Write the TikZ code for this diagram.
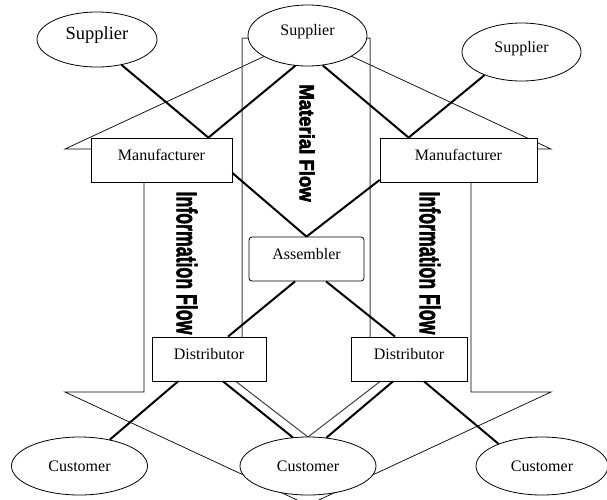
\documentclass[tikz,border=0pt]{standalone}
\usepackage{fontspec}
\setmainfont{Liberation Serif}
\newfontfamily\flowfont{Liberation Sans}
\usetikzlibrary{shapes.geometric}

% heavier stroke for the flow labels
\newcommand{\heavytext}[1]{\special{pdf:literal 2 Tr 0.6 w}#1\special{pdf:literal 0 Tr}}

\tikzset{
  partner/.style={ellipse, draw, fill=white, line width=0.8pt, inner sep=0pt,
    font=\fontsize{16}{18}\selectfont},
  chainbox/.style={rectangle, draw, fill=white, line width=0.8pt, inner sep=0pt,
    minimum height=44pt, text height=10pt, text depth=10pt,
    font=\fontsize{16}{18}\selectfont},
  matline/.style={line width=2pt},
  flowedge/.style={line width=0.7pt},
  flowtext/.style={rotate=-90, inner sep=0pt, font=\flowfont\bfseries}
}

\begin{document}
\begin{tikzpicture}[x=1pt, y=-1pt]
  \useasboundingbox (0,0) rectangle (607,499);

  % information flow (double arrow)
  \draw[flowedge] (144,149) -- (65,149) -- (308,36) -- (551,149) -- (471,149)
    -- (471,392) -- (551,392) -- (308,505) -- (65,392) -- (144,392) -- cycle;
  % material flow (down arrow)
  \draw[flowedge, black!75, line width=1pt] (242,360) -- (242,38) -- (370,38)
    -- (370,360) -- (408,360) -- (308,437) -- (208,360) -- cycle;

  \node[flowtext] (info1) at (187,263)
    {\fontsize{28.8}{30}\selectfont\scalebox{0.616}[1]{\heavytext{Information Flow}}};
  \node[flowtext] (info2) at (430,263)
    {\fontsize{28.8}{30}\selectfont\scalebox{0.616}[1]{\heavytext{Information Flow}}};
  \node[flowtext] (mat) at (307,143)
    {\fontsize{20.6}{22}\selectfont\scalebox{0.9}[1]{\heavytext{Material Flow}}};

  % suppliers
  \node[partner, minimum width=120pt, minimum height=55pt,
    text height=10pt, text depth=10pt,
    font=\fontsize{18.5}{20}\selectfont] (s1) at (97,39.5) {Supplier};
  \node[partner, minimum width=119pt, minimum height=61pt,
    text height=10pt, text depth=10pt] (s2) at (307.5,35.5) {Supplier};
  \node[partner, minimum width=119pt, minimum height=58pt,
    text height=10pt, text depth=10pt] (s3) at (521.5,52) {Supplier};

  % chain
  \node[chainbox, minimum width=141pt] (m1) at (161.5,160) {Manufacturer};
  \node[chainbox, minimum width=157pt] (m2) at (458.5,160) {Manufacturer};
  \node[chainbox, rounded corners=3pt, minimum width=115pt] (asm) at (306.5,259) {Assembler};
  \node[chainbox, minimum width=114pt] (d1) at (209,359) {Distributor};
  \node[chainbox, minimum width=116pt] (d2) at (409,359) {Distributor};

  % customers
  \node[partner, minimum width=136pt, minimum height=58pt] (c1) at (79.5,466) {Customer};
  \node[partner, minimum width=136pt, minimum height=58pt] (c2) at (308,466) {Customer};
  \node[partner, minimum width=132pt, minimum height=58pt] (c3) at (542,466) {Customer};

  \draw[matline] (s1.-46) -- ([xshift=-24pt]m1.north east);
  \draw[matline] (s2.-112) -- ([xshift=-24pt]m1.north east);
  \draw[matline] (s2.-63) -- ([xshift=29pt]m2.north west);
  \draw[matline] (s3.-148) -- ([xshift=29pt]m2.north west);
  \draw[matline] ([yshift=-13pt]m1.east) -- (asm.north);
  \draw[matline] ([yshift=-20pt]m2.west) -- (asm.north);
  \draw[matline] ([xshift=-11.5pt]asm.south) -- ([xshift=19pt]d1.north);
  \draw[matline] ([xshift=19.5pt]asm.south) -- ([xshift=-14pt]d2.north);
  \draw[matline] ([xshift=-31pt]d1.south) -- (c1.41);
  \draw[matline] ([xshift=14pt]d1.south) -- (c2.118);
  \draw[matline] ([xshift=-16pt]d2.south) -- (c2.57);
  \draw[matline] ([xshift=15pt]d2.south) -- (c3.153);
\end{tikzpicture}
\end{document}
